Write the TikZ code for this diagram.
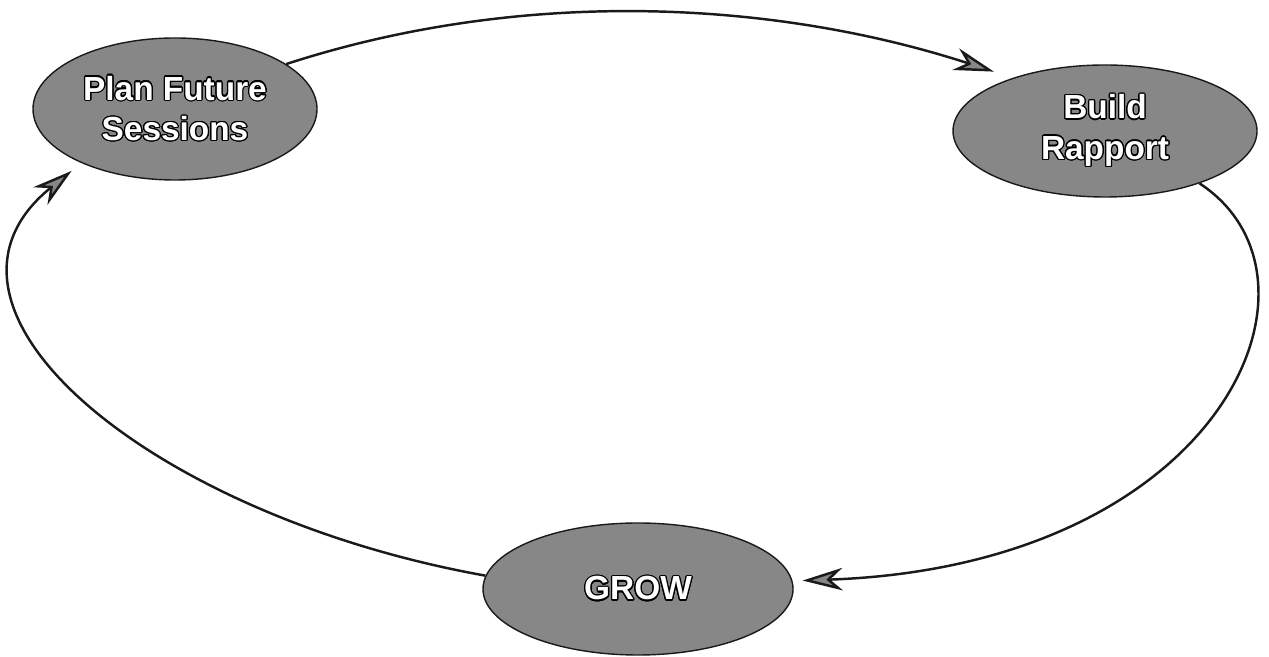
\documentclass[tikz,border=0pt]{standalone}
\usepackage{fontspec}
\setmainfont{Liberation Sans}
\usepackage{contour}
\usetikzlibrary{arrows.meta,shapes.geometric}
\definecolor{GRFill}{HTML}{878787}
\definecolor{GRLine}{HTML}{1A1A1A}
\contourlength{0.7pt}

\tikzset{
  stage/.style={ellipse,fill=GRFill,draw=GRLine,line width=0.8pt,inner sep=0pt,
    text=white,font=\bfseries\fontsize{19}{23}\selectfont,align=center},
  loopline/.style={draw=GRLine,line width=1.4pt,
    -{Stealth[length=8mm,width=4.5mm,inset=2.5mm,fill=GRFill]}}
}

\begin{document}
\begin{tikzpicture}[x=1cm,y=1cm]
\path[use as bounding box] (0,0) rectangle (25.38,13.14);
\node[stage,minimum width=5.68cm,minimum height=2.84cm] (plan) at (3.50,10.96)
  {\contour{black}{Plan Future}\\\contour{black}{Sessions}};
\node[stage,minimum width=6.08cm,minimum height=2.64cm] (build) at (22.10,10.52)
  {\contour{black}{Build}\\\contour{black}{Rapport}};
\node[stage,minimum width=6.20cm,minimum height=2.64cm] (grow) at (12.76,1.36)
  {\contour{black}{GROW}};
\draw[loopline,shorten >=0.4cm] (plan.22) .. controls +(18:5) and +(162:5) .. (build.150);
\draw[loopline,shorten >=0.2cm] (build.331) .. controls +(2.9,-1.9) and +(8.6,0.3) .. (grow.3);
\draw[loopline,shorten >=0.25cm] (grow.175) .. controls +(-6.7,1.2) and +(-3.6,-2.9) .. (plan.210);
\end{tikzpicture}
\end{document}
